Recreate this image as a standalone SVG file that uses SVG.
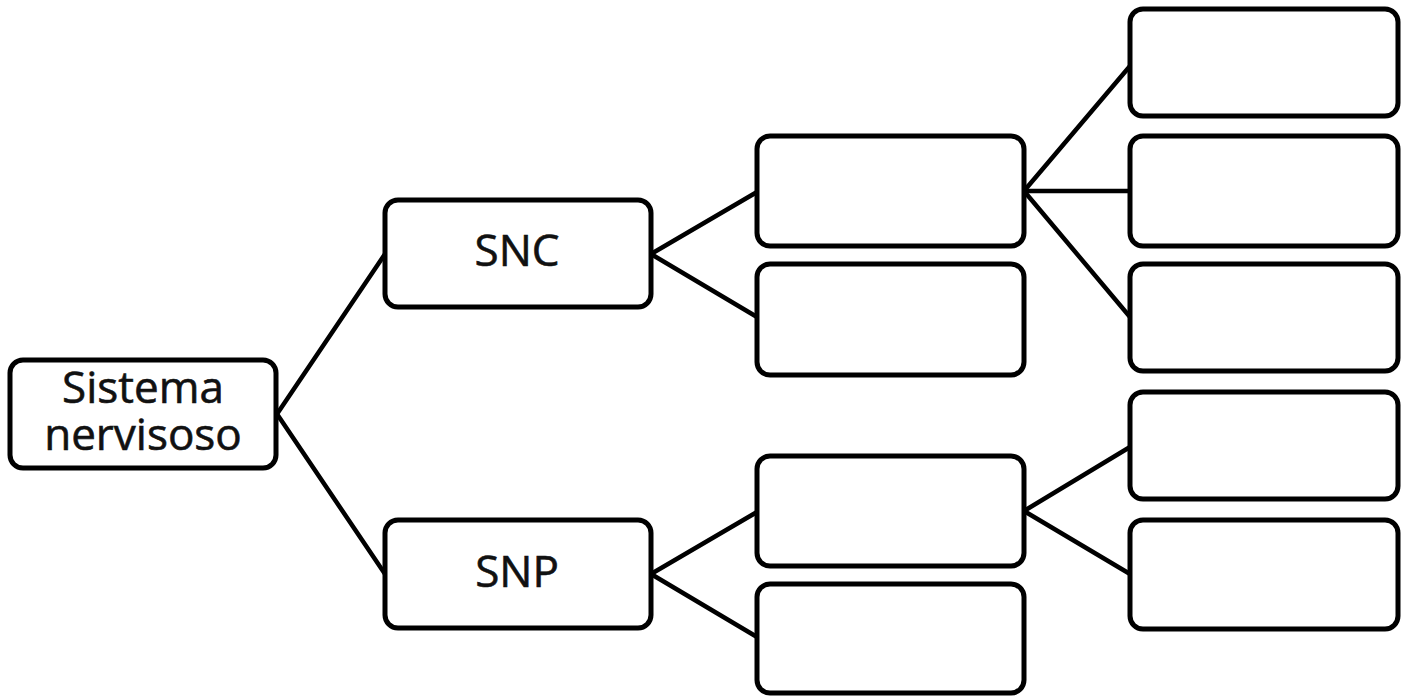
<svg xmlns="http://www.w3.org/2000/svg" width="1409" height="696" viewBox="0 0 1409 696">
<style>
.box{fill:#fff;stroke:#000;stroke-width:5}
.lbl{font-family:"Open Sans","Noto Sans",sans-serif;font-size:44px;fill:#111;text-anchor:middle;stroke:#111;stroke-width:0.6}
.con line{stroke:#000;stroke-width:4.5;stroke-linecap:round}
</style>
<rect width="1409" height="696" fill="#fff"/>
<g id="connectors" class="con">
<line x1="277" y1="414" x2="385" y2="254"/>
<line x1="277" y1="414" x2="385" y2="574"/>
<line x1="651" y1="254" x2="757" y2="192"/>
<line x1="651" y1="254" x2="757" y2="317"/>
<line x1="651" y1="574" x2="757" y2="512"/>
<line x1="651" y1="574" x2="757" y2="637"/>
<line x1="1024" y1="191" x2="1130" y2="66"/>
<line x1="1024" y1="191" x2="1130" y2="191"/>
<line x1="1024" y1="191" x2="1130" y2="317"/>
<line x1="1024" y1="511" x2="1130" y2="447"/>
<line x1="1024" y1="511" x2="1130" y2="574"/>
</g>
<g id="n-sistema"><rect class="box" x="10" y="360" width="266" height="108" rx="13"/><text class="lbl" x="143" y="403">Sistema</text><text class="lbl" x="143" y="450">nervisoso</text></g>
<g id="n-snc"><rect class="box" x="385" y="200" width="266" height="107" rx="13"/><text class="lbl" x="517" y="266">SNC</text></g>
<g id="n-snp"><rect class="box" x="385" y="520" width="266" height="108" rx="13"/><text class="lbl" x="517" y="587">SNP</text></g>
<g id="n-a1"><rect class="box" x="757" y="136" width="267" height="110" rx="13"/></g>
<g id="n-a2"><rect class="box" x="757" y="264" width="267" height="111" rx="13"/></g>
<g id="n-b1"><rect class="box" x="757" y="456" width="267" height="110" rx="13"/></g>
<g id="n-b2"><rect class="box" x="757" y="584" width="267" height="109" rx="13"/></g>
<g id="n-c1"><rect class="box" x="1130" y="9" width="268" height="107" rx="13"/></g>
<g id="n-c2"><rect class="box" x="1130" y="136" width="268" height="110" rx="13"/></g>
<g id="n-c3"><rect class="box" x="1130" y="264" width="268" height="107" rx="13"/></g>
<g id="n-c4"><rect class="box" x="1130" y="392" width="268" height="107" rx="13"/></g>
<g id="n-c5"><rect class="box" x="1130" y="520" width="268" height="109" rx="13"/></g>
</svg>
